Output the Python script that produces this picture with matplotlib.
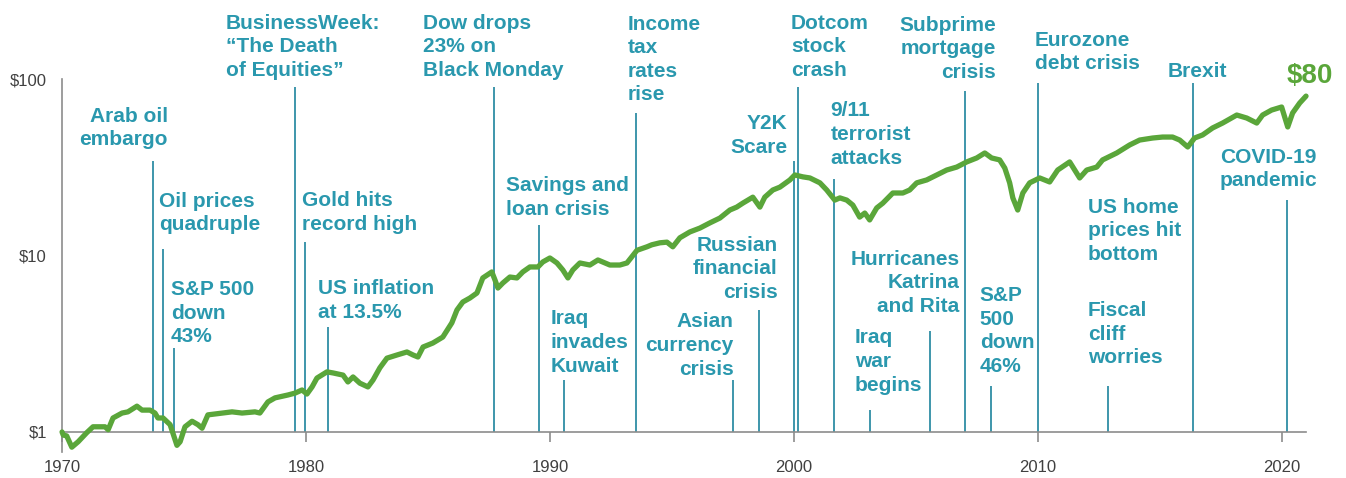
import matplotlib.pyplot as plt
from matplotlib.ticker import NullLocator

# growth of $1
years = [1970.00, 1970.05, 1970.19, 1970.40, 1970.66, 1971.01, 1971.27, 1971.76, 1971.89,
         1972.09, 1972.46, 1972.70, 1973.07, 1973.28, 1973.61, 1973.81, 1973.93, 1974.14,
         1974.43, 1974.71, 1974.84, 1975.04, 1975.33, 1975.57, 1975.74, 1975.98, 1976.56,
         1976.97, 1977.38, 1977.91, 1978.11, 1978.44, 1978.73, 1979.26, 1979.55, 1979.84,
         1980.04, 1980.25, 1980.45, 1980.86, 1981.11, 1981.52, 1981.72, 1981.93, 1982.21,
         1982.54, 1982.75, 1983.03, 1983.32, 1983.73, 1984.14, 1984.39, 1984.59, 1984.80,
         1985.20, 1985.61, 1985.98, 1986.19, 1986.43, 1986.72, 1987.01, 1987.25, 1987.62,
         1987.75, 1987.87, 1988.07, 1988.36, 1988.65, 1988.89, 1989.18, 1989.51, 1989.71,
         1990.00, 1990.29, 1990.53, 1990.74, 1990.94, 1991.23, 1991.64, 1991.97, 1992.46,
         1992.87, 1993.16, 1993.57, 1993.98, 1994.18, 1994.51, 1994.80, 1995.04, 1995.33,
         1995.74, 1996.15, 1996.56, 1996.97, 1997.38, 1997.66, 1997.91, 1998.32, 1998.61,
         1998.81, 1999.14, 1999.43, 1999.84, 2000.04, 2000.37, 2000.66, 2001.07, 2001.35,
         2001.68, 2001.89, 2002.17, 2002.42, 2002.70, 2002.91, 2003.11, 2003.40, 2003.65,
         2004.06, 2004.47, 2004.75, 2005.04, 2005.45, 2005.86, 2006.27, 2006.68, 2007.09,
         2007.50, 2007.83, 2008.11, 2008.44, 2008.65, 2008.85, 2008.98, 2009.18, 2009.39,
         2009.67, 2010.08, 2010.49, 2010.82, 2011.31, 2011.72, 2012.01, 2012.42, 2012.66,
         2013.24, 2013.77, 2014.18, 2014.71, 2015.12, 2015.53, 2015.82, 2016.15, 2016.43,
         2016.76, 2017.17, 2017.58, 2018.16, 2018.57, 2018.98, 2019.22, 2019.59, 2020.00,
         2020.25, 2020.45, 2020.74, 2021.00]
values = [1.00, 0.96, 0.95, 0.82, 0.88, 0.99, 1.07, 1.07, 1.03,
          1.20, 1.28, 1.30, 1.40, 1.33, 1.33, 1.28, 1.20, 1.20,
          1.10, 0.84, 0.88, 1.07, 1.15, 1.10, 1.05, 1.25, 1.28,
          1.30, 1.28, 1.30, 1.28, 1.48, 1.56, 1.62, 1.66, 1.73,
          1.64, 1.80, 2.02, 2.19, 2.16, 2.10, 1.92, 2.05, 1.89,
          1.80, 1.97, 2.31, 2.62, 2.73, 2.84, 2.73, 2.66, 3.03,
          3.19, 3.45, 4.15, 4.91, 5.45, 5.74, 6.13, 7.46, 8.07,
          7.26, 6.54, 6.98, 7.55, 7.46, 8.07, 8.61, 8.61, 9.19,
          9.68, 9.07, 8.28, 7.46, 8.28, 9.07, 8.83, 9.43, 8.83,
          8.83, 9.07, 10.7, 11.2, 11.5, 11.8, 11.9, 11.2, 12.6,
          13.6, 14.3, 15.3, 16.3, 18.1, 18.8, 19.8, 21.4, 18.8,
          21.4, 23.5, 24.4, 26.8, 28.6, 27.9, 27.5, 25.8, 23.5,
          20.6, 21.2, 20.6, 19.3, 16.5, 17.4, 15.9, 18.6, 19.8,
          22.6, 22.6, 23.5, 25.8, 26.8, 28.6, 30.5, 31.7, 33.9,
          35.7, 38.1, 35.7, 34.8, 31.3, 25.8, 21.2, 18.1, 22.6,
          25.8, 27.5, 26.1, 30.5, 33.9, 27.5, 30.5, 31.7, 34.8,
          38.1, 42.3, 45.1, 46.3, 46.9, 46.9, 45.1, 41.2, 46.3,
          48.2, 52.8, 56.3, 62.5, 60.1, 56.3, 62.5, 66.7, 69.4,
          53.5, 64.2, 73.1, 80.0]

x_ticks = [1970, 1980, 1990, 2000, 2010, 2020]
y_ticks = [1, 10, 100]
y_ticklabels = ['$1', '$10', '$100']
end_label = '$80'

event_labels = [
    'Arab oil\nembargo', 'Oil prices\nquadruple', 'S&P 500\ndown\n43%',
    'BusinessWeek:\n\u201cThe Death\nof Equities\u201d', 'Gold hits\nrecord high',
    'US inflation\nat 13.5%', 'Dow drops\n23% on\nBlack Monday', 'Savings and\nloan crisis',
    'Iraq\ninvades\nKuwait', 'Income\ntax\nrates\nrise', 'Asian\ncurrency\ncrisis',
    'Russian\nfinancial\ncrisis', 'Y2K\nScare', 'Dotcom\nstock\ncrash',
    '9/11\nterrorist\nattacks', 'Iraq\nwar\nbegins', 'Hurricanes\nKatrina\nand Rita',
    'Subprime\nmortgage\ncrisis', 'S&P\n500\ndown\n46%', 'Eurozone\ndebt crisis',
    'US home\nprices hit\nbottom', 'Fiscal\ncliff\nworries', 'Brexit', 'COVID-19\npandemic',
]
event_years = [1973.73, 1974.14, 1974.59, 1979.55, 1979.96, 1980.90, 1987.70, 1989.55,
               1990.57, 1993.52, 1997.50, 1998.57, 2000.00, 2000.16, 2001.64, 2003.14,
               2005.57, 2007.01, 2008.07, 2010.00, None, 2012.87, 2016.37, 2020.20]

# layout: top of each marker line, label anchor (x, y) and alignment
line_tops = [34.3, 10.9, 2.99, 90.1, 11.9, 3.93, 90.1, 14.9, 1.97, 64.2, 1.97, 4.91,
             34.3, 90.1, 27.1, 1.33, 3.73, 85.5, 1.82, 94.9, None, 1.82, 94.9, 20.6]
label_x = [1974.34, 1973.98, 1974.47, 1976.72, 1979.84, 1980.49, 1984.80, 1988.20,
           1990.04, 1993.20, 1997.54, 1999.34, 1999.75, 1999.88, 2001.50, 2002.50,
           2006.80, 2008.28, 2007.62, 2009.88, 2012.05, 2012.05, 2016.56, 2017.46]
label_y = [52.8, 17.4, 4.72, 152, 17.5, 5.56, 152, 21.3, 3.21, 129, 3.09, 8.39,
           47.9, 152, 48.5, 2.51, 6.99, 148, 3.73, 142, 13.8, 3.59, 111, 30.9]
label_ha = ['right', 'left', 'left', 'left', 'left', 'left', 'left', 'left',
            'left', 'left', 'right', 'right', 'right', 'left', 'left', 'left',
            'right', 'right', 'left', 'left', 'left', 'left', 'center', 'left']

green = '#5aa63a'
teal_text = '#2a98ae'
teal_line = '#2f8ea5'
gray = '#8c8c8c'

plt.rcParams['font.family'] = ['Liberation Sans', 'DejaVu Sans']

fig = plt.figure(figsize=(13.46, 4.78), dpi=100)
ax = fig.add_axes([0.0461, 0.0544, 0.9242, 0.7803])
ax.set_yscale('log')
ax.set_xlim(1970, 2021)
ax.set_ylim(0.77, 100)

for side in ['top', 'right']:
    ax.spines[side].set_visible(False)
ax.spines['bottom'].set_position(('data', 1))
for side in ['bottom', 'left']:
    ax.spines[side].set_color(gray)
    ax.spines[side].set_linewidth(1.2)

ax.set_xticks(x_ticks)
ax.set_xticklabels([str(t) for t in x_ticks])
ax.set_yticks(y_ticks)
ax.set_yticklabels(y_ticklabels)
ax.yaxis.set_minor_locator(NullLocator())
ax.xaxis.set_minor_locator(NullLocator())
ax.tick_params(axis='x', length=7, width=1.2, color=gray, pad=13,
               labelsize=12, labelcolor='#404040')
ax.tick_params(axis='y', length=0, pad=11, labelsize=12, labelcolor='#404040')

# event marker lines and labels
for lab, yr, top, tx, ty, ha in zip(event_labels, event_years, line_tops,
                                     label_x, label_y, label_ha):
    if yr is not None:
        ax.vlines(yr, 1, top, color=teal_line, lw=1.3, zorder=2)
    ax.text(tx, ty, lab, ha=ha, va='center', fontsize=15, fontweight='bold',
            color=teal_text, linespacing=1.31, clip_on=False)

ax.plot(years, values, color=green, lw=3.8, solid_joinstyle='round',
        solid_capstyle='round', zorder=3, clip_on=False)
ax.text(2022.1, 104, end_label, ha='right', va='center', fontsize=20,
        fontweight='bold', color=green, clip_on=False)

fig.savefig('out.png', dpi=100)
